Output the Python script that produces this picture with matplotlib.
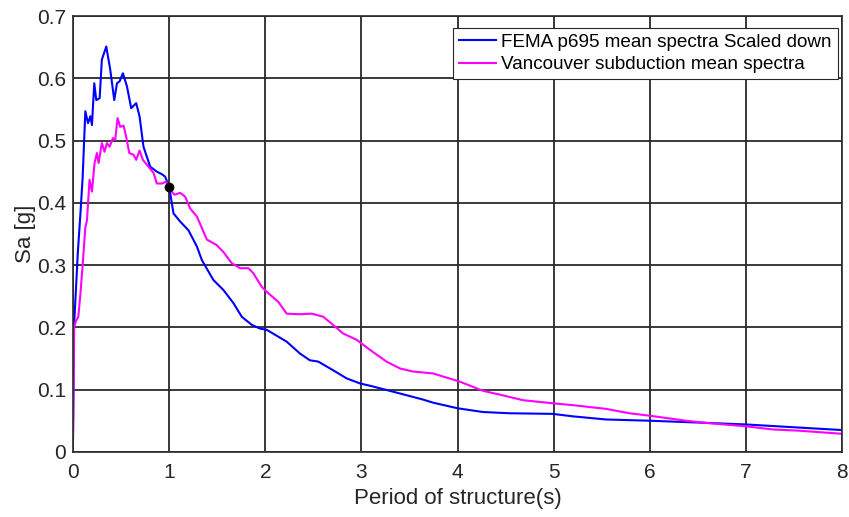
import matplotlib
matplotlib.use('Agg')
import matplotlib.pyplot as plt

# FEMA p695 mean spectra (scaled down)
fema_period = [0, 0.01, 0.03, 0.05, 0.076, 0.1, 0.128, 0.156, 0.18, 0.197, 0.221,
               0.242, 0.277, 0.30, 0.346, 0.387, 0.429, 0.457, 0.484, 0.519, 0.561,
               0.605, 0.657, 0.692, 0.733, 0.803, 0.872, 0.924, 0.958, 1.0, 1.045,
               1.114, 1.2, 1.288, 1.34, 1.46, 1.564, 1.668, 1.755, 1.859, 1.945,
               2.015, 2.222, 2.36, 2.464, 2.55, 2.706, 2.846, 2.983, 3.12, 3.295,
               3.468, 3.64, 3.745, 4.0, 4.264, 4.54, 4.99, 5.2, 5.545, 6.0, 6.514,
               7.0, 7.552, 8.0]
fema_sa = [0.02, 0.2, 0.26, 0.32, 0.38, 0.44, 0.547, 0.528, 0.539, 0.525, 0.592,
           0.565, 0.568, 0.63, 0.651, 0.614, 0.565, 0.592, 0.595, 0.608, 0.587,
           0.552, 0.560, 0.539, 0.490, 0.458, 0.450, 0.446, 0.442, 0.426, 0.383,
           0.370, 0.356, 0.330, 0.308, 0.276, 0.260, 0.239, 0.217, 0.204, 0.198,
           0.196, 0.177, 0.158, 0.147, 0.145, 0.131, 0.118, 0.110, 0.105, 0.098,
           0.091, 0.084, 0.079, 0.070, 0.064, 0.062, 0.061, 0.057, 0.052, 0.050,
           0.047, 0.044, 0.039, 0.035]

# Vancouver subduction mean spectra
van_period = [0, 0.012, 0.03, 0.055, 0.075, 0.1, 0.128, 0.145, 0.172, 0.197, 0.224,
              0.249, 0.266, 0.30, 0.328, 0.353, 0.38, 0.415, 0.439, 0.463, 0.491,
              0.526, 0.553, 0.585, 0.630, 0.657, 0.692, 0.727, 0.785, 0.837, 0.872,
              0.924, 0.969, 1.01, 1.055, 1.114, 1.166, 1.218, 1.288, 1.322, 1.392,
              1.495, 1.564, 1.651, 1.737, 1.824, 1.875, 1.963, 2.015, 2.135, 2.222,
              2.36, 2.482, 2.602, 2.689, 2.81, 2.95, 3.087, 3.26, 3.40, 3.537,
              3.745, 3.848, 4.02, 4.264, 4.437, 4.68, 4.99, 5.20, 5.545, 5.787,
              6.0, 6.376, 6.618, 7.0, 7.277, 7.552, 8.0]
van_sa = [0.025, 0.2, 0.21, 0.217, 0.25, 0.30, 0.36, 0.372, 0.437, 0.418, 0.464,
          0.480, 0.464, 0.496, 0.482, 0.496, 0.49, 0.504, 0.501, 0.536, 0.522,
          0.524, 0.506, 0.480, 0.477, 0.469, 0.484, 0.469, 0.458, 0.448, 0.431,
          0.431, 0.434, 0.421, 0.413, 0.416, 0.410, 0.391, 0.378, 0.366, 0.341,
          0.332, 0.321, 0.303, 0.295, 0.295, 0.287, 0.265, 0.257, 0.241, 0.222,
          0.221, 0.222, 0.217, 0.206, 0.190, 0.180, 0.164, 0.145, 0.134, 0.129,
          0.126, 0.121, 0.113, 0.098, 0.092, 0.083, 0.078, 0.075, 0.069, 0.062,
          0.058, 0.050, 0.046, 0.041, 0.036, 0.034, 0.029]

# marked point
mark_period = [1.0]
mark_sa = [0.426]

plt.rcParams['font.family'] = ['Liberation Sans', 'DejaVu Sans']

fig = plt.figure(figsize=(8.49, 5.17), dpi=100)
ax = fig.add_axes([0.086, 0.126, 0.906, 0.843])

ax.plot(fema_period, fema_sa, color='#0000ff', lw=1.5,
        label='FEMA p695 mean spectra Scaled down')
ax.plot(van_period, van_sa, color='#ff00ff', lw=1.5,
        label='Vancouver subduction mean spectra')
ax.plot(mark_period, mark_sa, 'o', color='black', markersize=6)

ax.set_xlim(0, 8)
ax.set_ylim(0, 0.7)
ax.set_xticks(range(0, 9))
ax.set_yticks([0, 0.1, 0.2, 0.3, 0.4, 0.5, 0.6, 0.7])
ax.set_yticklabels(['0', '0.1', '0.2', '0.3', '0.4', '0.5', '0.6', '0.7'])

ax.grid(True, color='#2a2a2a', lw=1.3)
ax.set_axisbelow(True)
ax.tick_params(length=0, labelsize=15, colors='#262626')
ax.tick_params(axis='x', pad=8)
ax.tick_params(axis='y', pad=5)
for s in ax.spines.values():
    s.set_color('#2a2a2a')
    s.set_linewidth(1.2)

ax.set_xlabel('Period of structure(s)', fontsize=16, color='#262626')
ax.set_ylabel('Sa [g]', fontsize=16, color='#262626', labelpad=1)

leg = ax.legend(loc='upper right', bbox_to_anchor=(0.994, 0.973), fontsize=13.6,
                fancybox=False, framealpha=1, edgecolor='#262626',
                handlelength=1.95, handletextpad=0.3, borderpad=0.3,
                labelspacing=0.28, borderaxespad=0)
leg.get_frame().set_linewidth(0.8)

fig.savefig('out.png', dpi=100)
